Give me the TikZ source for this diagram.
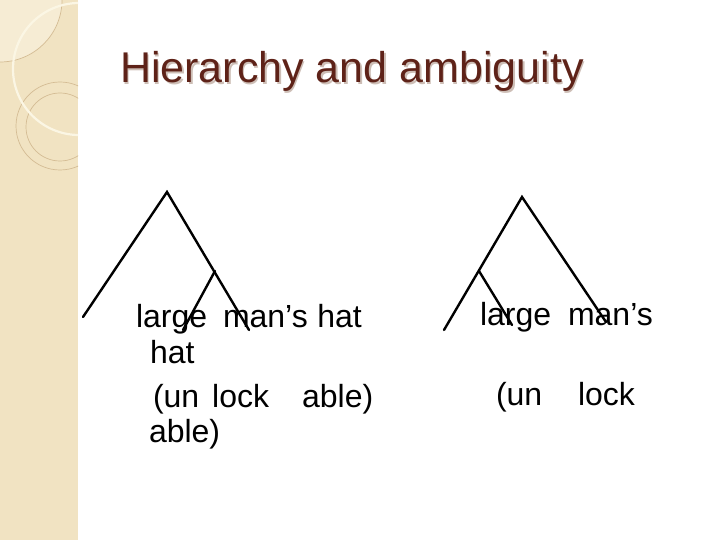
\documentclass[tikz,border=0pt]{standalone}
\usepackage{fontspec}
\setmainfont{Liberation Sans}
\definecolor{side}{RGB}{241,227,194}
\definecolor{sidelight}{RGB}{246,236,212}
\definecolor{sidering}{RGB}{212,188,148}
\definecolor{sidearc}{RGB}{251,246,228}
\definecolor{titlecol}{RGB}{94,34,24}
\definecolor{titleshadow}{RGB}{205,190,182}
\begin{document}
\begin{tikzpicture}[x=1pt,y=-1pt,
  treeline/.style={line width=2.4pt,black,line cap=round},
  word/.style={anchor=base west,inner sep=0pt,outer sep=0pt,font=\fontsize{32}{38}\selectfont},
  titletext/.style={anchor=base west,inner sep=0pt,outer sep=0pt,font=\fontsize{43}{50}\selectfont}]
\useasboundingbox (0,0) rectangle (720,540);
\fill[white] (0,0) rectangle (720,540);
% sidebar
\begin{scope}
  \clip (0,0) rectangle (78,540);
  \fill[side] (0,0) rectangle (78,540);
  \fill[sidelight] (0,0) circle (62);
  \draw[sidering,line width=0.7pt] (0,0) circle (62);
  \draw[sidering,line width=0.7pt] (60,126) circle (44);
  \draw[sidering,line width=0.7pt] (60,127) circle (34);
  \draw[sidearc,line width=2.2pt] (79,69) circle (66);
\end{scope}
% title
\node[titletext,text=titleshadow] at (121.5,84.2) {Hierarchy and ambiguity};
\node[titletext,text=titlecol] (title) at (120,82.7) {Hierarchy and ambiguity};
% left tree
\coordinate (la) at (167,192);
\coordinate (ll) at (83,317);
\coordinate (lm) at (215,271);
\coordinate (lr) at (249,330);
\coordinate (lml) at (183,330);
\draw[treeline] (ll) -- (la) -- (lr);
\draw[treeline] (lm) -- (lml);
% right tree
\coordinate (ra) at (522,197);
\coordinate (rl) at (444,330);
\coordinate (rm) at (479,271);
\coordinate (rr) at (606,322);
\coordinate (rmr) at (512,325);
\draw[treeline] (rl) -- (ra) -- (rr);
\draw[treeline] (rm) -- (rmr);
% left text
\node[word] (t1) at (136,327) {large\hspace{15.9pt}man’s\hspace{9.5pt}hat};
\node[word] (t2) at (150,363) {hat};
\node[word] (t3) at (153,407) {(un\hspace{13pt}lock\hspace{33pt}able)};
\node[word] (t4) at (149,442) {able)};
% right text
\node[word] (r1) at (480,325) {large\hspace{16.9pt}man’s};
\node[word] (r2) at (496,405) {(un\hspace{35.8pt}lock};
\end{tikzpicture}
\end{document}
